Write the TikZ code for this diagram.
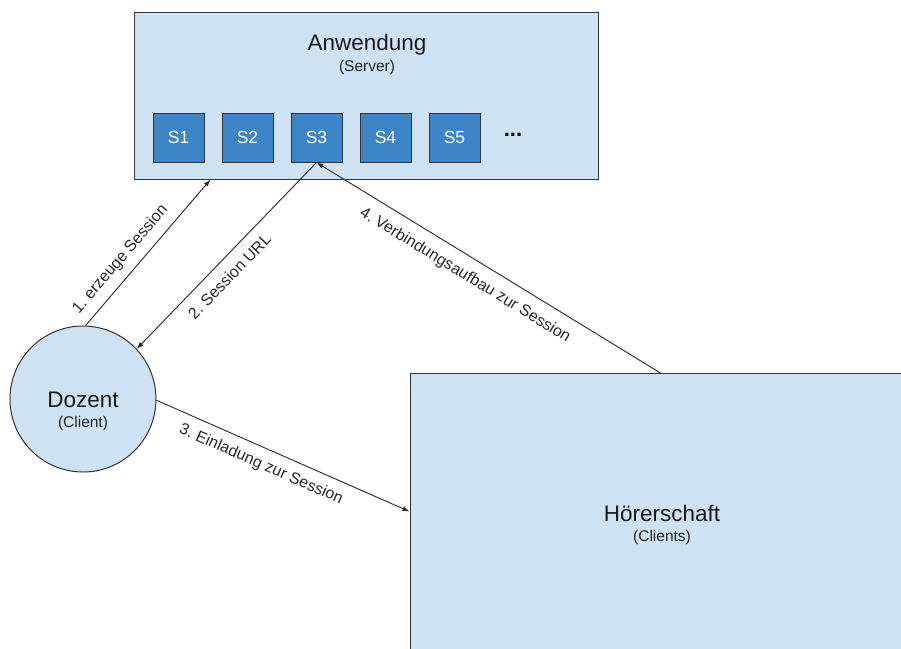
\documentclass[tikz,border=0pt]{standalone}
\usepackage{fontspec}
\setmainfont{Liberation Sans}
\usetikzlibrary{arrows.meta,calc}
\definecolor{paleblue}{HTML}{CFE2F3}
\definecolor{sessblue}{HTML}{3D85C6}
\definecolor{edge}{HTML}{333333}
\frenchspacing

\begin{document}
\begin{tikzpicture}[x=1pt,y=1pt,
  panel/.style={draw=edge, line width=1pt, fill=paleblue, inner sep=0pt},
  session/.style={draw=edge, line width=1pt, fill=sessblue, minimum width=51pt,
    minimum height=49pt, inner sep=0pt, text=white, font=\fontsize{17.5}{20}\selectfont},
  title/.style={font=\fontsize{22.5}{26}\selectfont, text=black!90, inner sep=0pt},
  subtitle/.style={font=\fontsize{15.5}{18}\selectfont, text=black!85, inner sep=0pt},
  flow/.style={draw=black!85, line width=0.9pt, -{Latex[length=7pt,width=5pt]}},
  steplabel/.style={font=\fontsize{16}{19}\selectfont, sloped, inner sep=0pt, text=black!85}
]
\useasboundingbox (0,0) rectangle (901,-648);
\clip (0,0) rectangle (901,-648);

% server with its sessions
\node[panel, minimum width=464pt, minimum height=167pt] (app) at (366,-95.5) {};
\node[title] (appname) at (367,-45) {Anwendung};
\node[subtitle] (appsub) at (367,-67.5) {(Server)};
\foreach \i/\x in {1/178.5, 2/247.5, 3/316.5, 4/385.5, 5/454.5}
  \node[session] (s\i) at (\x,-137.5) {S\i};
\node[font=\fontsize{22}{24}\selectfont\bfseries, inner sep=0pt] (more) at (513,-135) {...};

% lecturer
\node[panel, circle, minimum size=146pt] (doz) at (83,-399) {};
\node[title] (dozname) at (83,-400) {Dozent};
\node[subtitle] (dozsub) at (83,-423.5) {(Client)};

% audience
\node[panel, anchor=north west, minimum width=520pt, minimum height=300pt] (hoer) at (409.5,-373) {};
\node[title] (hoername) at (662,-513) {Hörerschaft};
\node[subtitle] (hoersub) at (662,-537) {(Clients)};

% message flow
\coordinate (a1) at ([xshift=77pt]app.south west);
\draw[flow] (doz.88) -- node[steplabel, above=8.5pt, pos=0.38] {1. erzeuge Session} (a1);
\draw[flow] (s3.south) -- node[steplabel, below=10pt, pos=0.55] {2. Session URL} (doz.43);
\draw[flow] (doz.-1) -- node[steplabel, below=9pt, pos=0.44] {3. Einladung zur Session} ([yshift=12pt]hoer.west);
\draw[flow] ([xshift=-9.5pt]hoer.north) -- node[steplabel, below=11pt, pos=0.54] {4. Verbindungsaufbau zur Session} (s3.south);
\end{tikzpicture}
\end{document}
